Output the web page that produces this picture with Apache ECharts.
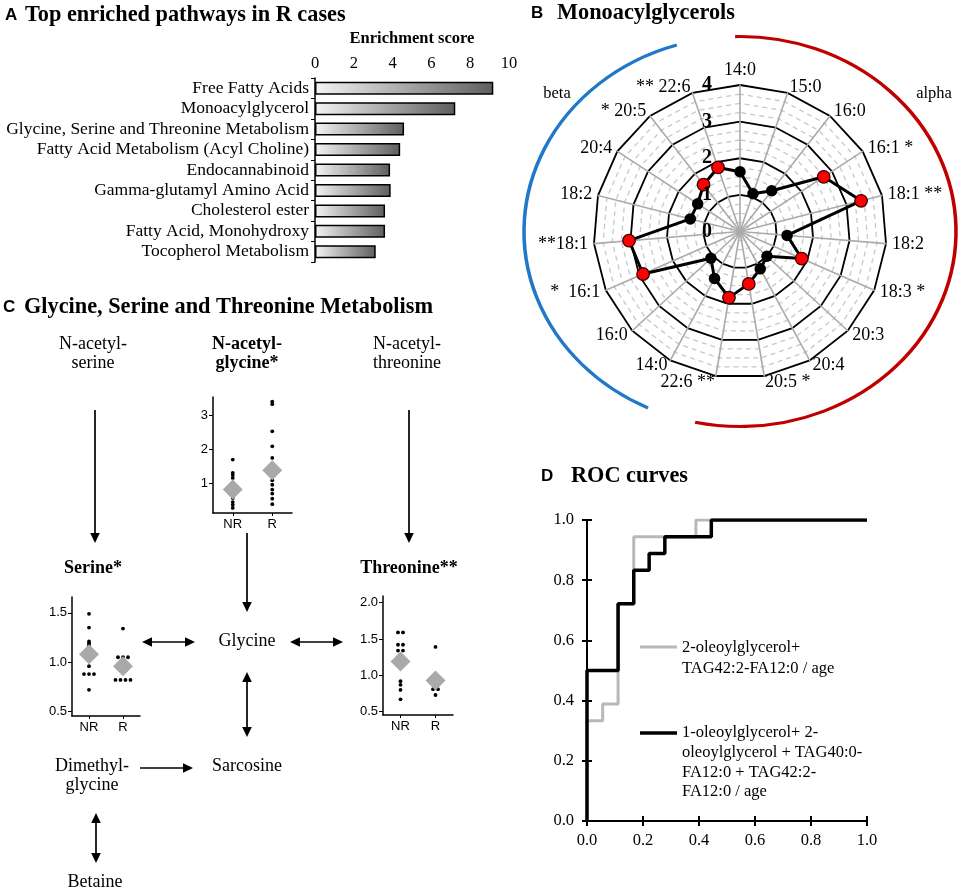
<!DOCTYPE html>
<html><head><meta charset="utf-8">
<script src="https://cdn.jsdelivr.net/npm/echarts@6/dist/echarts.min.js"></script>
<style>html,body{margin:0;padding:0;background:#fff}#c{width:964px;height:890px}</style>
</head><body><div id="c"></div>
<script>
// ---------- Panel A data ----------
const pathways = ['Free Fatty Acids','Monoacylglycerol','Glycine, Serine and Threonine Metabolism','Fatty Acid Metabolism (Acyl Choline)','Endocannabinoid','Gamma-glutamyl Amino Acid','Cholesterol ester','Fatty Acid, Monohydroxy','Tocopherol Metabolism'];
const enrichment = [9.19, 7.23, 4.59, 4.39, 3.87, 3.90, 3.61, 3.61, 3.13];
const scoreLabelTicks = [0, 2, 4, 6, 8, 10];

// ---------- Panel B data ----------
const radarLabels = ['14:0','15:0','16:0','16:1 *','18:1 **','18:2','18:3 *','20:3','20:4','20:5 *','22:6 **','14:0','16:0','*  16:1','**18:1','18:2','20:4','* 20:5','** 22:6'];
const radarValues = [1.63, 1.09, 1.41, 2.73, 3.41, 1.29, 1.84, 1.00, 1.16, 1.45, 1.83, 1.46, 1.08, 2.89, 3.04, 1.40, 1.38, 1.62, 1.85];
const radarSignificant = [0,0,0,1,1,0,1,0,0,1,1,0,0,1,1,0,0,1,1];
const radarRingTicks = [0, 1, 2, 3, 4];

// ---------- Panel C data ----------
const groups = ['NR', 'R'];
const nagNR = [1.70, 1.31, 1.25, 1.16, 1.02, 0.88, 0.72, 0.57, 0.45, 0.37, 0.28];
const nagR = [3.40, 3.33, 2.53, 2.09, 1.75, 1.45, 1.30, 1.09, 0.96, 0.82, 0.70, 0.55, 0.39];
const nagMean = [0.82, 1.39];
const nagTicks = [1, 2, 3];
const serNR = [1.49, 1.35, 1.21, 1.19, 1.17, 1.10, 1.02, 0.96, 0.88, 0.88, 0.88, 0.72];
const serR = [1.34, 1.05, 1.05, 1.05, 0.97, 0.92, 0.82, 0.82, 0.82, 0.82];
const serMean = [1.08, 0.96];
const serTicks = [0.5, 1.0, 1.5];
const thrNR = [1.59, 1.59, 1.42, 1.42, 1.34, 1.34, 1.22, 1.15, 0.92, 0.87, 0.80, 0.67];
const thrR = [1.39, 0.97, 0.92, 0.81, 0.81, 0.73];
const thrMean = [1.19, 0.93];
const thrTicks = [0.5, 1.0, 1.5, 2.0];

// ---------- Panel D data ----------
const rocGrayFpr = [0, 0, 0.056, 0.056, 0.111, 0.111, 0.167, 0.167, 0.389, 0.389, 1];
const rocGrayTpr = [0, 0.333, 0.333, 0.389, 0.389, 0.722, 0.722, 0.944, 0.944, 1, 1];
const rocBlackFpr = [0, 0, 0.111, 0.111, 0.167, 0.167, 0.222, 0.222, 0.278, 0.278, 0.444, 0.444, 1];
const rocBlackTpr = [0, 0.5, 0.5, 0.722, 0.722, 0.833, 0.833, 0.889, 0.889, 0.944, 0.944, 1, 1];
const rocGrayName = '2-oleoylglycerol+\nTAG42:2-FA12:0 / age';
const rocBlackName = '1-oleoylglycerol+ 2-\noleoylglycerol + TAG40:0-\nFA12:0 + TAG42:2-\nFA12:0 / age';

// ---------- helpers ----------
const SERIF = '"Liberation Serif","Times New Roman",serif';
const SANS = '"Liberation Sans",Arial,sans-serif';

function swarm(values, cat) {
  const clusters = [];
  values.forEach(v => {
    const c = clusters.find(cl => Math.abs(cl[0] - v) < 0.015);
    if (c) c.push(v); else clusters.push([v]);
  });
  const out = [];
  clusters.forEach(cl => cl.forEach((v, k) => {
    out.push({ value: [cat, v], symbolOffset: [(k - (cl.length - 1) / 2) * 5, 0] });
  }));
  return out;
}

function arrow(x1, y1, x2, y2, both) {
  const L = 10, W = 4.8;
  const dx = x2 - x1, dy = y2 - y1, len = Math.hypot(dx, dy);
  const ux = dx / len, uy = dy / len, px = -uy, py = ux;
  const els = [];
  const sx = both ? x1 + ux * (L - 1) : x1, sy = both ? y1 + uy * (L - 1) : y1;
  const ex = x2 - ux * (L - 1), ey = y2 - uy * (L - 1);
  els.push({ type: 'line', shape: { x1: sx, y1: sy, x2: ex, y2: ey }, style: { stroke: '#000', lineWidth: 1.7 } });
  const head = (tx, ty, dirx, diry) => ({
    type: 'polygon',
    shape: { points: [[tx, ty], [tx - dirx * L + px * W, ty - diry * L + py * W], [tx - dirx * L - px * W, ty - diry * L - py * W]] },
    style: { fill: '#000' }
  });
  els.push(head(x2, y2, ux, uy));
  if (both) els.push(head(x1, y1, -ux, -uy));
  return els;
}
function txt(x, y, text, font, align, extra) {
  return { type: 'text', x: x, y: y, style: Object.assign({ text: text, font: font, fill: '#000', align: align || 'center', verticalAlign: 'middle' }, extra || {}) };
}

// ---------- radar setup (radar runs counter-clockwise; reverse order to go clockwise) ----------
const N = radarLabels.length;
const ccwOrder = [0].concat(Array.from({ length: N - 1 }, (_, k) => N - 1 - k));
const cx = 740, cy = 231.5, R = 146.5;
const RX = 216, RY = 195;

// ---------- graphic ----------
const TF = 'bold 22.3px ' + SERIF, LF = 'bold 17px ' + SANS;
const graphic = [];
graphic.push(txt(5, 15, 'A', LF, 'left'));
graphic.push(txt(25, 15, 'Top enriched pathways in R cases', TF, 'left'));
graphic.push(txt(531, 13, 'B', LF, 'left'));
graphic.push(txt(557, 13, 'Monoacylglycerols', TF, 'left'));
graphic.push(txt(3, 307, 'C', LF, 'left'));
graphic.push(txt(24, 307, 'Glycine, Serine and Threonine Metabolism', TF, 'left'));
graphic.push(txt(541, 476, 'D', LF, 'left'));
graphic.push(txt(571, 476, 'ROC curves', TF, 'left'));
// alpha / beta elliptical arcs (circle arc scaled horizontally)
const deg = d => d * Math.PI / 180;
graphic.push({ type: 'group', x: cx, y: cy, scaleX: RX / RY, children: [
  { type: 'arc', shape: { cx: 0, cy: 0, r: RY, startAngle: deg(-91.3), endAngle: deg(102), clockwise: true },
    style: { stroke: '#c00000', lineWidth: 3.2, fill: null, strokeNoScale: true } },
  { type: 'arc', shape: { cx: 0, cy: 0, r: RY, startAngle: deg(115.2), endAngle: deg(253), clockwise: true },
    style: { stroke: '#1f78c8', lineWidth: 3.2, fill: null, strokeNoScale: true } }
] });
graphic.push(txt(934, 94, 'alpha', '16.5px ' + SERIF));
graphic.push(txt(557, 94, 'beta', '16.5px ' + SERIF));
// panel C pathway
const F = '18px ' + SERIF, FB = 'bold 18px ' + SERIF;
graphic.push(txt(93, 344, 'N-acetyl-', F), txt(93, 363, 'serine', F));
graphic.push(txt(247, 344, 'N-acetyl-', FB), txt(247, 363, 'glycine*', FB));
graphic.push(txt(407, 344, 'N-acetyl-', F), txt(407, 363, 'threonine', F));
graphic.push(txt(93, 568, 'Serine*', FB), txt(409, 568, 'Threonine**', FB));
graphic.push(txt(247, 641, 'Glycine', F), txt(247, 766, 'Sarcosine', F));
graphic.push(txt(92, 766, 'Dimethyl-', F), txt(92, 785, 'glycine', F));
graphic.push(txt(95, 882, 'Betaine', F));
[].concat(
  arrow(95, 410, 95, 543, false),
  arrow(409, 410, 409, 543, false),
  arrow(247, 533, 247, 612, false),
  arrow(142, 642, 195, 642, true),
  arrow(290, 642, 343, 642, true),
  arrow(247, 672, 247, 737, true),
  arrow(140, 768, 193, 768, false),
  arrow(96, 813, 96, 863, true)
).forEach(e => graphic.push(e));
// ROC legend
graphic.push({ type: 'line', shape: { x1: 640, y1: 647, x2: 677, y2: 647 }, style: { stroke: '#b8b8b8', lineWidth: 3 } });
graphic.push({ type: 'text', x: 682, y: 637, style: { text: rocGrayName, font: '16.5px ' + SERIF, fill: '#000', align: 'left', verticalAlign: 'top', lineHeight: 21 } });
graphic.push({ type: 'line', shape: { x1: 640, y1: 733, x2: 677, y2: 733 }, style: { stroke: '#000', lineWidth: 3.5 } });
graphic.push({ type: 'text', x: 682, y: 723, style: { text: rocBlackName, font: '16.5px ' + SERIF, fill: '#000', align: 'left', verticalAlign: 'top', lineHeight: 19.7 } });

// ---------- option ----------
const blackAxis = { lineStyle: { color: '#000', width: 1.5 } };
function miniX(gi) {
  return { type: 'category', gridIndex: gi, data: groups, boundaryGap: true,
    axisLine: blackAxis, axisTick: { show: true, alignWithLabel: true, length: 3, lineStyle: { color: '#000' } },
    axisLabel: { color: '#000', fontFamily: SANS, fontSize: 13, margin: 5 } };
}
function miniY(gi, min, max, ticks, fmt) {
  return { type: 'value', gridIndex: gi, min: min, max: max,
    axisLine: Object.assign({ show: true }, blackAxis), splitLine: { show: false },
    axisTick: { show: true, length: 4, lineStyle: { color: '#000' }, customValues: ticks },
    axisLabel: { color: '#000', fontFamily: SANS, fontSize: 13, margin: 5, customValues: ticks, formatter: fmt } };
}
function dotSeries(xi, nr, r) {
  return { type: 'scatter', xAxisIndex: xi, yAxisIndex: xi, symbol: 'circle', symbolSize: 3.8,
    itemStyle: { color: '#000', opacity: 1 }, z: 2, silent: true, data: swarm(nr, 0).concat(swarm(r, 1)) };
}
function meanSeries(xi, means) {
  return { type: 'scatter', xAxisIndex: xi, yAxisIndex: xi, symbol: 'diamond', symbolSize: [20, 20],
    itemStyle: { color: '#a9a9a9', opacity: 1 }, z: 3, silent: true, data: means.map((m, i) => [i, m]) };
}

const option = {
  animation: false,
  backgroundColor: '#fff',
  graphic: { elements: graphic },
  grid: [
    { left: 315, top: 78, width: 194, height: 184 },
    { left: 213, top: 397, width: 79, height: 116 },
    { left: 72, top: 597, width: 68, height: 119 },
    { left: 383, top: 596, width: 70, height: 119 },
    { left: 587, top: 520, width: 280, height: 301 }
  ],
  xAxis: [
    { type: 'value', gridIndex: 0, position: 'top', min: 0, max: 10, interval: 1,
      name: 'Enrichment score', nameLocation: 'middle', nameGap: 31,
      nameTextStyle: { fontFamily: SERIF, fontWeight: 'bold', fontSize: 16.5, color: '#000' },
      axisLine: blackAxis, axisTick: { length: 5, lineStyle: { color: '#000' } }, splitLine: { show: false },
      axisLabel: { color: '#000', fontFamily: SERIF, fontSize: 16.5, margin: 6,
        formatter: v => scoreLabelTicks.indexOf(v) >= 0 ? String(v) : '' } },
    miniX(1), miniX(2), miniX(3),
    { type: 'value', gridIndex: 4, min: 0, max: 1, interval: 0.2,
      axisLine: { lineStyle: { color: '#000', width: 2 } }, axisTick: { length: 5, lineStyle: { color: '#000', width: 2 } },
      splitLine: { show: false },
      axisLabel: { color: '#000', fontFamily: SERIF, fontSize: 16.5, margin: 11, formatter: v => v.toFixed(1) } },
    { type: 'value', gridIndex: 4, position: 'bottom', offset: 0, min: 0, max: 1, interval: 0.2,
      axisLine: { show: false }, axisTick: { inside: true, length: 5, lineStyle: { color: '#000', width: 2 } },
      splitLine: { show: false }, axisLabel: { show: false } }
  ],
  yAxis: [
    { type: 'category', gridIndex: 0, data: pathways, inverse: true,
      axisLine: blackAxis, axisTick: { show: true, length: 4, lineStyle: { color: '#000' } },
      axisLabel: { color: '#000', fontFamily: SERIF, fontSize: 17.5, margin: 6, interval: 0 } },
    miniY(1, 0.13, 3.54, nagTicks, v => String(v)),
    miniY(2, 0.455, 1.66, serTicks, v => v.toFixed(1)),
    miniY(3, 0.455, 2.09, thrTicks, v => v.toFixed(1)),
    { type: 'value', gridIndex: 4, min: 0, max: 1, interval: 0.2,
      axisLine: { show: true, lineStyle: { color: '#000', width: 2 } }, axisTick: { show: true, length: 5, lineStyle: { color: '#000', width: 2 } },
      splitLine: { show: false },
      axisLabel: { color: '#000', fontFamily: SERIF, fontSize: 16.5, margin: 13, formatter: v => v.toFixed(1) } },
    { type: 'value', gridIndex: 4, position: 'left', offset: 0, min: 0, max: 1, interval: 0.2,
      axisLine: { show: false }, axisTick: { show: true, inside: true, length: 5, lineStyle: { color: '#000', width: 2 } },
      splitLine: { show: false }, axisLabel: { show: false } }
  ],
  radar: [
    { center: [cx, cy], radius: R, startAngle: 90, shape: 'polygon', splitNumber: 16,
      indicator: ccwOrder.map(i => ({ name: radarLabels[i], min: 0, max: 4 })),
      axisName: { color: '#000', fontFamily: SERIF, fontSize: 18 }, nameGap: 6,
      splitLine: { lineStyle: { color: '#c8c8c8', type: [5, 4], width: 1.3 } },
      splitArea: { show: false },
      axisLine: { lineStyle: { color: '#ababab', width: 1.6 } },
      axisTick: { show: false }, axisLabel: { show: false } },
    { center: [cx, cy], radius: R, startAngle: 90, shape: 'polygon', splitNumber: 4,
      indicator: ccwOrder.map(i => ({ name: '', min: 0, max: 4 })),
      axisName: { show: false },
      splitLine: { lineStyle: { color: '#000', width: 1.8 } },
      splitArea: { show: false }, axisLine: { show: false },
      axisTick: { show: false }, axisLabel: { show: false } }
  ],
  polar: { center: [cx, cy], radius: R },
  angleAxis: { type: 'value', min: 0, max: N, startAngle: 90, clockwise: true, show: false },
  radiusAxis: { type: 'value', min: 0, max: 4, interval: 1,
    axisLine: { show: false }, axisTick: { show: false }, splitLine: { show: false },
    axisLabel: { show: true, color: '#000', fontFamily: SERIF, fontWeight: 'bold', fontSize: 20, margin: 28,
      formatter: v => radarRingTicks.indexOf(v) >= 0 ? String(v) : '' }, z: 5 },
  series: [
    { type: 'bar', xAxisIndex: 0, yAxisIndex: 0, data: enrichment, barWidth: 13, silent: true,
      itemStyle: { borderColor: '#000', borderWidth: 1.5,
        color: new echarts.graphic.LinearGradient(0, 0, 1, 0, [{ offset: 0, color: '#f4f4f4' }, { offset: 1, color: '#5e5e5e' }]) } },
    { type: 'line', coordinateSystem: 'polar', symbol: 'none', silent: true, z: 3,
      lineStyle: { color: '#000', width: 3 },
      data: radarValues.map((v, i) => [v, i]).concat([[radarValues[0], N]]) },
    { type: 'scatter', coordinateSystem: 'polar', symbolSize: 11.5, z: 4, silent: true,
      itemStyle: { color: '#000', opacity: 1 },
      data: radarValues.map((v, i) => [v, i]).filter((d, i) => !radarSignificant[i]) },
    { type: 'scatter', coordinateSystem: 'polar', symbolSize: 12.5, z: 4, silent: true,
      itemStyle: { color: '#ff0000', borderColor: '#3a0000', borderWidth: 1.3, opacity: 1 },
      data: radarValues.map((v, i) => [v, i]).filter((d, i) => radarSignificant[i]) },
    dotSeries(1, nagNR, nagR), meanSeries(1, nagMean),
    dotSeries(2, serNR, serR), meanSeries(2, serMean),
    dotSeries(3, thrNR, thrR), meanSeries(3, thrMean),
    { type: 'line', xAxisIndex: 4, yAxisIndex: 4, symbol: 'none', silent: true, z: 2,
      lineStyle: { color: '#b8b8b8', width: 3 },
      data: rocGrayFpr.map((x, i) => [x, rocGrayTpr[i]]) },
    { type: 'line', xAxisIndex: 4, yAxisIndex: 4, symbol: 'none', silent: true, z: 3,
      lineStyle: { color: '#000', width: 3.5 },
      data: rocBlackFpr.map((x, i) => [x, rocBlackTpr[i]]) }
  ]
};
const chart = echarts.init(document.getElementById('c'), null, { renderer: 'canvas' });
chart.setOption(option);
</script></body></html>
